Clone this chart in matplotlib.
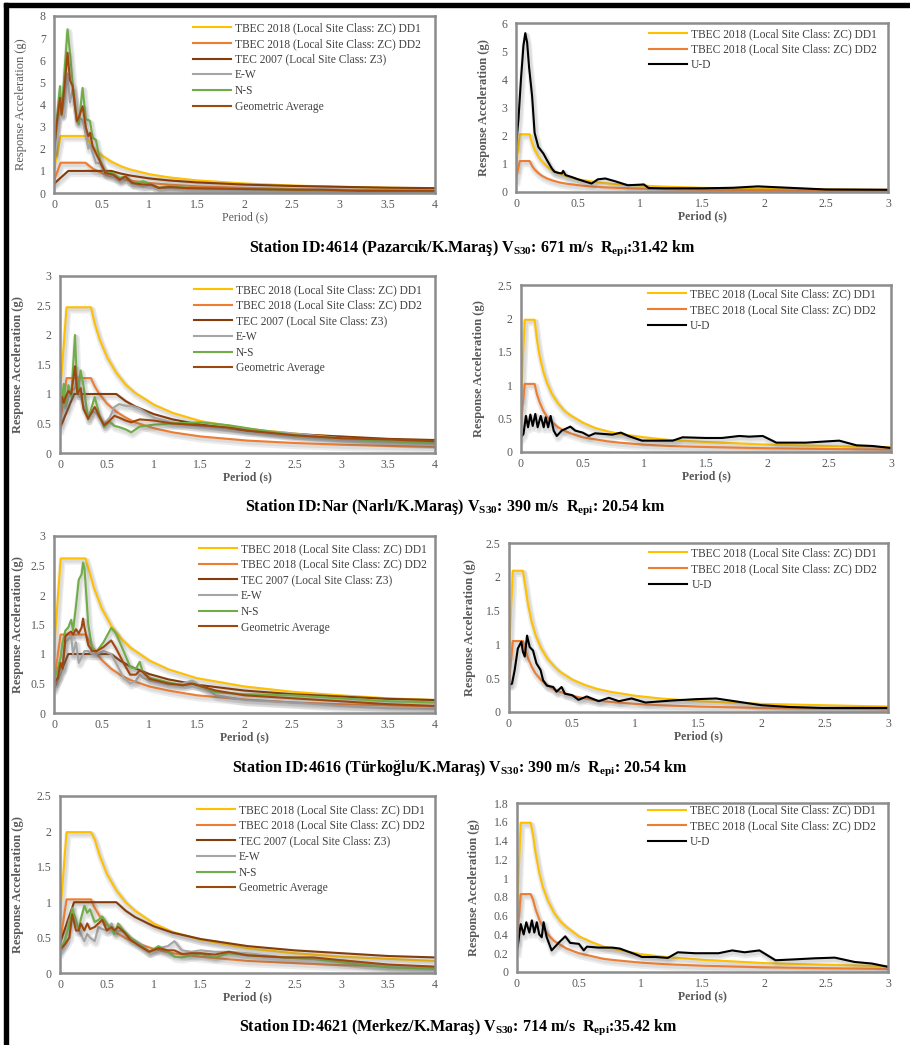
import numpy as np
import matplotlib.pyplot as plt
import matplotlib.patheffects as pe
from matplotlib.patches import Rectangle
from matplotlib.lines import Line2D
from matplotlib.ticker import FuncFormatter, MultipleLocator

plt.rcParams['font.family'] = ['Liberation Serif', 'DejaVu Serif']
plt.rcParams['mathtext.fontset'] = 'custom'
plt.rcParams['mathtext.rm'] = 'Liberation Serif:bold'
plt.rcParams['mathtext.it'] = 'Liberation Serif:bold'
plt.rcParams['mathtext.bf'] = 'Liberation Serif:bold'

# ---- design spectra ----
# left panels (horizontal components), period grid 0-4 s
dl_t = [0, 0.07, 0.33, 0.37, 0.42, 0.5, 0.6, 0.7, 0.8, 1.0, 1.2, 1.5, 2.0, 2.5, 3.0, 3.5, 4.0]
r1_dd1 = [1.05, 2.58, 2.58, 2.30, 2.02, 1.70, 1.42, 1.21, 1.06, 0.85, 0.71, 0.57, 0.43, 0.34, 0.28, 0.24, 0.21]
r1_dd2 = [0.55, 1.37, 1.37, 1.22, 1.07, 0.90, 0.75, 0.64, 0.56, 0.45, 0.38, 0.30, 0.23, 0.18, 0.15, 0.13, 0.11]
r2_dd1 = [0.99, 2.47, 2.47, 2.20, 1.94, 1.63, 1.36, 1.16, 1.02, 0.82, 0.68, 0.54, 0.41, 0.33, 0.27, 0.23, 0.20]
r2_dd2 = [0.51, 1.27, 1.27, 1.13, 1.00, 0.84, 0.70, 0.60, 0.52, 0.42, 0.35, 0.28, 0.21, 0.17, 0.14, 0.12, 0.10]
r3_dd1 = [1.05, 2.62, 2.62, 2.41, 2.12, 1.78, 1.48, 1.27, 1.11, 0.89, 0.74, 0.59, 0.45, 0.36, 0.30, 0.25, 0.22]
r3_dd2 = [0.53, 1.33, 1.33, 1.22, 1.07, 0.90, 0.75, 0.64, 0.56, 0.45, 0.38, 0.30, 0.23, 0.18, 0.15, 0.13, 0.11]
r4_dd1 = [0.80, 1.99, 1.99, 1.89, 1.67, 1.40, 1.17, 1.00, 0.88, 0.70, 0.58, 0.47, 0.35, 0.28, 0.23, 0.20, 0.17]
r4_dd2 = [0.42, 1.04, 1.04, 0.92, 0.81, 0.68, 0.57, 0.49, 0.43, 0.34, 0.28, 0.23, 0.17, 0.14, 0.11, 0.10, 0.085]

tec_t = [0, 0.15, 0.6, 0.7, 0.8, 1.0, 1.2, 1.5, 2.0, 2.5, 3.0, 3.5, 4.0]
tec_v = [0.42, 1.0, 1.0, 0.88, 0.79, 0.66, 0.57, 0.48, 0.38, 0.32, 0.28, 0.24, 0.22]

# right panels (vertical component), period grid 0-3 s
dr_t = [0, 0.03, 0.11, 0.13, 0.15, 0.18, 0.21, 0.25, 0.3, 0.35, 0.4, 0.5, 0.6, 0.7, 0.8, 1.0, 1.2, 1.5, 2.0, 2.5, 3.0]
r1v_dd1 = [0.85, 2.05, 2.05, 1.74, 1.51, 1.26, 1.08, 0.90, 0.75, 0.65, 0.57, 0.45, 0.38, 0.32, 0.28, 0.23, 0.19, 0.15, 0.11, 0.09, 0.075]
r1v_dd2 = [0.45, 1.10, 1.10, 0.92, 0.80, 0.67, 0.57, 0.48, 0.40, 0.34, 0.30, 0.24, 0.20, 0.17, 0.15, 0.12, 0.10, 0.08, 0.06, 0.05, 0.04]
r2v_dd1 = [0.80, 1.98, 1.98, 1.68, 1.45, 1.21, 1.04, 0.87, 0.73, 0.62, 0.55, 0.44, 0.36, 0.31, 0.27, 0.22, 0.18, 0.15, 0.11, 0.09, 0.07]
r2v_dd2 = [0.41, 1.02, 1.02, 0.86, 0.75, 0.62, 0.53, 0.45, 0.37, 0.32, 0.28, 0.22, 0.19, 0.16, 0.14, 0.11, 0.09, 0.075, 0.056, 0.045, 0.037]
r3v_dd1 = [0.85, 2.09, 2.09, 1.85, 1.60, 1.33, 1.14, 0.96, 0.80, 0.69, 0.60, 0.48, 0.40, 0.34, 0.30, 0.24, 0.20, 0.16, 0.12, 0.10, 0.08]
r3v_dd2 = [0.42, 1.05, 1.05, 0.92, 0.80, 0.67, 0.57, 0.48, 0.40, 0.34, 0.30, 0.24, 0.20, 0.17, 0.15, 0.12, 0.10, 0.08, 0.06, 0.05, 0.04]
r4v_dd1 = [0.64, 1.59, 1.59, 1.46, 1.27, 1.06, 0.90, 0.76, 0.63, 0.54, 0.48, 0.38, 0.32, 0.27, 0.24, 0.19, 0.16, 0.13, 0.095, 0.076, 0.063]
r4v_dd2 = [0.33, 0.83, 0.83, 0.77, 0.67, 0.56, 0.48, 0.40, 0.33, 0.29, 0.25, 0.20, 0.17, 0.14, 0.125, 0.10, 0.083, 0.067, 0.05, 0.04, 0.033]

# ---- recorded spectra ----
r1_t = [0, 0.03, 0.063, 0.08, 0.11, 0.142, 0.168, 0.195, 0.24, 0.26, 0.30, 0.335, 0.36, 0.378, 0.406, 0.44,
        0.483, 0.54, 0.62, 0.69, 0.75, 0.82, 0.94, 1.02, 1.1, 1.22, 1.4, 1.7, 2.0, 2.5, 2.8, 3.2, 3.6, 4.0]
r1_ns = [1.9, 3.4, 4.83, 3.55, 5.5, 7.4, 6.34, 4.98, 3.32, 3.1, 4.75, 3.32, 3.3, 3.25, 2.5, 2.4,
         1.5, 0.92, 0.9, 0.68, 0.75, 0.45, 0.53, 0.38, 0.23, 0.33, 0.23, 0.22, 0.2, 0.15, 0.12, 0.1, 0.08, 0.07]
r1_ga = [1.9, 3.2, 4.3, 3.55, 4.8, 6.34, 5.1, 4.83, 3.25, 3.4, 3.92, 2.95, 2.57, 2.72, 2.1, 1.8,
         1.43, 0.9, 0.83, 0.6, 0.75, 0.45, 0.38, 0.38, 0.23, 0.27, 0.22, 0.2, 0.18, 0.15, 0.15, 0.1, 0.1, 0.1]
r1_ew = [1.8, 3.0, 3.8, 3.5, 4.2, 5.4, 4.1, 4.7, 3.2, 3.4, 3.3, 2.6, 2.0, 2.2, 1.8, 1.35,
         1.35, 0.88, 0.76, 0.53, 0.75, 0.45, 0.27, 0.38, 0.23, 0.22, 0.21, 0.18, 0.16, 0.15, 0.18, 0.1, 0.12, 0.13]

r2_t = [0, 0.02, 0.04, 0.06, 0.09, 0.12, 0.16, 0.185, 0.22, 0.25, 0.30, 0.37, 0.42, 0.47, 0.53, 0.58, 0.63,
        0.7, 0.76, 0.85, 1.0, 1.2, 1.5, 1.8, 2.0, 2.5, 3.0, 3.5, 4.0]
r2_ns = [0.6, 0.9, 1.17, 0.8, 1.15, 0.95, 2.0, 1.0, 1.4, 1.15, 0.57, 0.95, 0.65, 0.44, 0.53, 0.46, 0.44,
         0.4, 0.35, 0.45, 0.48, 0.5, 0.52, 0.47, 0.42, 0.3, 0.25, 0.2, 0.17]
r2_ga = [0.65, 0.95, 0.85, 0.95, 1.05, 1.0, 1.47, 1.0, 1.1, 0.75, 0.58, 0.78, 0.62, 0.47, 0.55, 0.63, 0.6,
         0.55, 0.52, 0.57, 0.55, 0.5, 0.47, 0.43, 0.38, 0.3, 0.25, 0.23, 0.2]
r2_ew = [0.95, 0.9, 0.8, 0.75, 0.95, 1.05, 1.1, 1.3, 0.95, 0.8, 0.65, 0.7, 0.6, 0.5, 0.6, 0.78, 0.83,
         0.8, 0.8, 0.75, 0.6, 0.52, 0.45, 0.42, 0.4, 0.33, 0.25, 0.2, 0.17]

r3_t = [0, 0.04, 0.07, 0.09, 0.12, 0.15, 0.18, 0.2, 0.23, 0.26, 0.29, 0.305, 0.32, 0.36, 0.4, 0.45, 0.52,
        0.6, 0.65, 0.73, 0.8, 0.86, 0.9, 0.93, 1.0, 1.2, 1.35, 1.45, 1.55, 1.7, 2.0, 2.5, 3.0, 3.5, 4.0]
r3_ns = [0.55, 0.75, 0.95, 1.2, 1.4, 1.45, 1.58, 1.4, 1.8, 2.26, 2.35, 2.55, 2.45, 1.5, 1.1, 1.05, 1.2,
         1.44, 1.35, 1.05, 0.78, 0.75, 0.87, 0.7, 0.6, 0.52, 0.47, 0.5, 0.45, 0.35, 0.32, 0.3, 0.25, 0.2, 0.18]
r3_ga = [0.5, 0.6, 0.85, 0.75, 1.3, 1.35, 1.38, 1.33, 1.42, 1.35, 1.45, 1.6, 1.45, 1.15, 1.05, 1.05, 1.12,
         1.23, 1.1, 0.85, 0.65, 0.65, 0.72, 0.7, 0.58, 0.5, 0.47, 0.5, 0.45, 0.38, 0.3, 0.25, 0.2, 0.15, 0.12]
r3_ew = [0.45, 0.6, 0.7, 0.8, 1.2, 1.25, 1.3, 1.0, 1.2, 0.85, 0.95, 1.0, 1.05, 1.05, 1.0, 1.0, 1.05,
         1.0, 0.85, 0.6, 0.5, 0.55, 0.65, 0.6, 0.55, 0.48, 0.5, 0.55, 0.45, 0.3, 0.22, 0.18, 0.12, 0.08, 0.07]

r4_t = [0, 0.05, 0.1, 0.13, 0.17, 0.2, 0.22, 0.26, 0.29, 0.32, 0.37, 0.41, 0.45, 0.5, 0.55, 0.58, 0.62,
        0.68, 0.75, 0.85, 0.95, 1.05, 1.15, 1.22, 1.3, 1.4, 1.5, 1.65, 1.8, 2.0, 2.4, 2.7, 3.0, 3.5, 4.0]
r4_ns = [0.35, 0.45, 0.7, 0.92, 0.75, 0.6, 0.75, 0.95, 0.85, 0.9, 0.72, 0.75, 0.8, 0.7, 0.62, 0.55, 0.7,
         0.6, 0.5, 0.4, 0.3, 0.38, 0.3, 0.23, 0.22, 0.25, 0.27, 0.22, 0.28, 0.25, 0.22, 0.2, 0.15, 0.08, 0.06]
r4_ga = [0.33, 0.4, 0.5, 0.83, 0.6, 0.6, 0.7, 0.6, 0.7, 0.62, 0.65, 0.7, 0.75, 0.6, 0.65, 0.6, 0.65,
         0.58, 0.47, 0.38, 0.3, 0.35, 0.32, 0.32, 0.27, 0.28, 0.28, 0.26, 0.3, 0.25, 0.22, 0.22, 0.18, 0.12, 0.09]
r4_ew = [0.3, 0.45, 0.75, 0.8, 0.7, 0.62, 0.55, 0.45, 0.55, 0.5, 0.45, 0.65, 0.62, 0.6, 0.7, 0.6, 0.6,
         0.58, 0.5, 0.42, 0.3, 0.35, 0.38, 0.45, 0.32, 0.3, 0.32, 0.3, 0.3, 0.28, 0.22, 0.2, 0.18, 0.1, 0.08]

# vertical (U-D)
r1_ud_t = [0, 0.02, 0.04, 0.06, 0.075, 0.09, 0.105, 0.13, 0.15, 0.18, 0.22, 0.25, 0.29, 0.31, 0.34, 0.37,
           0.38, 0.40, 0.45, 0.50, 0.55, 0.61, 0.66, 0.72, 0.80, 0.90, 1.0, 1.03, 1.07, 1.2, 1.5, 1.75, 1.95, 2.2, 2.5, 3.0]
r1_ud = [1.6, 2.6, 4.0, 5.2, 5.64, 5.3, 4.45, 3.4, 2.1, 1.6, 1.37, 1.13, 0.83, 0.72, 0.68, 0.66,
         0.75, 0.6, 0.53, 0.45, 0.38, 0.3, 0.45, 0.48, 0.38, 0.24, 0.26, 0.27, 0.14, 0.13, 0.13, 0.15, 0.2, 0.15, 0.09, 0.08]

r2_ud_t = [0, 0.02, 0.04, 0.057, 0.076, 0.095, 0.116, 0.135, 0.16, 0.184, 0.2, 0.22, 0.24, 0.265, 0.29, 0.33,
           0.4, 0.44, 0.5, 0.55, 0.6, 0.74, 0.81, 0.87, 0.98, 1.23, 1.31, 1.5, 1.63, 1.77, 1.85, 1.96, 2.07,
           2.31, 2.58, 2.72, 2.85, 3.0]
r2_ud = [0.22, 0.27, 0.54, 0.37, 0.56, 0.39, 0.57, 0.37, 0.54, 0.37, 0.52, 0.37, 0.54, 0.32, 0.24, 0.32,
         0.38, 0.32, 0.29, 0.24, 0.28, 0.26, 0.29, 0.24, 0.17, 0.17, 0.22, 0.21, 0.21, 0.24, 0.23, 0.24, 0.14,
         0.14, 0.17, 0.1, 0.09, 0.06]

r3_ud_t = [0, 0.024, 0.045, 0.07, 0.098, 0.11, 0.125, 0.143, 0.164, 0.19, 0.217, 0.25, 0.27, 0.3, 0.35,
           0.376, 0.416, 0.443, 0.5, 0.55, 0.615, 0.71, 0.79, 0.87, 0.97, 1.08, 1.29, 1.48, 1.64, 1.82, 2.0,
           2.22, 2.48, 3.0]
r3_ud = [0.4, 0.42, 0.62, 0.94, 1.04, 0.89, 0.82, 1.13, 0.96, 0.91, 0.72, 0.62, 0.47, 0.39, 0.37,
         0.3, 0.37, 0.27, 0.25, 0.18, 0.23, 0.16, 0.21, 0.16, 0.2, 0.14, 0.17, 0.19, 0.2, 0.15, 0.1,
         0.074, 0.06, 0.06]

r4_ud_t = [0, 0.03, 0.054, 0.075, 0.1, 0.12, 0.14, 0.16, 0.18, 0.2, 0.215, 0.24, 0.28, 0.336, 0.39, 0.43,
           0.5, 0.54, 0.565, 0.66, 0.77, 0.83, 0.955, 1.01, 1.12, 1.22, 1.3, 1.44, 1.63, 1.74, 1.84, 1.96,
           2.09, 2.25, 2.41, 2.57, 2.73, 2.87, 3.0]
r4_ud = [0.22, 0.51, 0.4, 0.53, 0.42, 0.55, 0.42, 0.53, 0.4, 0.37, 0.53, 0.37, 0.23, 0.31, 0.38, 0.31,
         0.3, 0.23, 0.27, 0.26, 0.26, 0.25, 0.19, 0.16, 0.16, 0.15, 0.21, 0.2, 0.2, 0.23, 0.21, 0.23,
         0.125, 0.135, 0.146, 0.153, 0.107, 0.09, 0.055]

left_labels = ['TBEC 2018 (Local Site Class: ZC) DD1', 'TBEC 2018 (Local Site Class: ZC) DD2',
               'TEC 2007 (Local Site Class: Z3)', 'E-W', 'N-S', 'Geometric Average']
right_labels = ['TBEC 2018 (Local Site Class: ZC) DD1', 'TBEC 2018 (Local Site Class: ZC) DD2', 'U-D']

captions = [
    'Station ID:4614 (Pazarcık/K.Maraş) V$_{S30}$: 671 m/s  R$_{epi}$:31.42 km',
    'Station ID:Nar (Narlı/K.Maraş) V$_{S30}$: 390 m/s  R$_{epi}$: 20.54 km',
    'Station ID:4616 (Türkoğlu/K.Maraş) V$_{S30}$: 390 m/s  R$_{epi}$: 20.54 km',
    'Station ID:4621 (Merkez/K.Maraş) V$_{S30}$: 714 m/s  R$_{epi}$:35.42 km',
]

C_DD1, C_DD2, C_TEC = '#FFC000', '#ED7D31', '#843C0C'
C_EW, C_NS, C_GA = '#A5A5A5', '#70AD47', '#9E480E'

W, H = 910, 1045
fig = plt.figure(figsize=(W / 100, H / 100), dpi=100)

# soft gray drop shadow like the Excel line effect
shadow = [pe.SimpleLineShadow(offset=(1, -2), shadow_color='#666666', alpha=0.12, linewidth=5),
          pe.SimpleLineShadow(offset=(1, -1.5), shadow_color='#666666', alpha=0.12, linewidth=3),
          pe.Normal()]


def make_ax(l, t, r, b):
    return fig.add_axes([l / W, 1 - b / H, (r - l) / W, (b - t) / H])


def style(ax, xmax, ymax, ystep, box, bold, ylab_off, leg_x, leg_top, colors, labels):
    l, t, r, b = box
    ax.set_xlim(0, xmax)
    ax.set_ylim(0, ymax)
    ax.xaxis.set_major_locator(MultipleLocator(0.5))
    ax.yaxis.set_major_locator(MultipleLocator(ystep))
    fmt = FuncFormatter(lambda v, p: '{:g}'.format(round(v, 2)))
    ax.xaxis.set_major_formatter(fmt)
    ax.yaxis.set_major_formatter(fmt)
    ax.tick_params(axis='y', length=0, pad=6, labelsize=8.5, labelcolor='#595959')
    ax.tick_params(axis='x', length=0, pad=4, labelsize=8.5, labelcolor='#595959')
    for s in ax.spines.values():
        s.set_color('#8c8c8c')
        s.set_linewidth(1.8)
    w = 'bold' if bold else 'normal'
    ax.set_xlabel('Period (s)', fontsize=8.5, fontweight=w, color='#595959')
    ax.xaxis.set_label_coords(0.5, -18.5 / (b - t))
    ax.set_ylabel('Response Acceleration (g)', fontsize=9, fontweight=w, color='#595959')
    ax.yaxis.set_label_coords(-ylab_off / (r - l), 0.5)
    handles = [Line2D([], [], color=c, lw=1.5) for c in colors]
    ax.legend(handles, labels, loc='upper left', bbox_to_anchor=(leg_x, leg_top), frameon=False,
              fontsize=8.3, handlelength=3.3, handletextpad=0.35, labelspacing=0.32, borderpad=0,
              borderaxespad=0, labelcolor='#404040')


left_rows = [
    (r1_dd1, r1_dd2, r1_t, r1_ew, r1_ns, r1_ga, 8, 1, (54, 16, 435, 193), False, 27, 0.365, 0.965),
    (r2_dd1, r2_dd2, r2_t, r2_ew, r2_ns, r2_ga, 3, 0.5, (60, 276, 435, 453), True, 36, 0.357, 0.955),
    (r3_dd1, r3_dd2, r3_t, r3_ew, r3_ns, r3_ga, 3, 0.5, (54, 536, 435, 713), True, 30, 0.38, 0.96),
    (r4_dd1, r4_dd2, r4_t, r4_ew, r4_ns, r4_ga, 2.5, 0.5, (60, 796, 435, 973), True, 36, 0.365, 0.955),
]
right_rows = [
    (r1v_dd1, r1v_dd2, r1_ud_t, r1_ud, 6, 1, (516, 23, 888, 192), 26, 0.357, 0.97),
    (r2v_dd1, r2v_dd2, r2_ud_t, r2_ud, 2.5, 0.5, (521, 285, 891, 452), 36, 0.343, 0.98),
    (r3v_dd1, r3v_dd2, r3_ud_t, r3_ud, 2.5, 0.5, (509, 543, 888, 712), 33, 0.37, 0.975),
    (r4v_dd1, r4v_dd2, r4_ud_t, r4_ud, 1.8, 0.2, (517, 803, 888, 972), 37, 0.353, 0.99),
]

left_colors = [C_DD1, C_DD2, C_TEC, C_EW, C_NS, C_GA]
right_colors = [C_DD1, C_DD2, 'black']

for dd1, dd2, t, ew, ns, ga, ymax, ystep, box, bold, yoff, lx, lt in left_rows:
    ax = make_ax(*box)
    series = [(dl_t, dd1), (dl_t, dd2), (tec_t, tec_v), (t, ew), (t, ns), (t, ga)]
    for (x, y), c in zip(series, left_colors):
        ax.plot(x, y, color=c, lw=1.5, path_effects=shadow)
    style(ax, 4, ymax, ystep, box, bold, yoff, lx, lt, left_colors, left_labels)

for dd1, dd2, t, ud, ymax, ystep, box, yoff, lx, lt in right_rows:
    ax = make_ax(*box)
    series = [(dr_t, dd1), (dr_t, dd2), (t, ud)]
    for (x, y), c in zip(series, right_colors):
        ax.plot(x, y, color=c, lw=1.5, path_effects=shadow)
    style(ax, 3, ymax, ystep, box, True, yoff, lx, lt, right_colors, right_labels)

for cap, (cx, cy) in zip(captions, [(472, 248), (455, 507), (460, 768), (458, 1027)]):
    fig.text(cx / W, 1 - cy / H, cap, ha='center', va='center', fontsize=11.5, fontweight='bold')

# black frame on the top and left edges
fig.add_artist(Rectangle((4 / W, 0), 4 / W, 1 - 3 / H, transform=fig.transFigure, color='black'))
fig.add_artist(Rectangle((4 / W, 1 - 7 / H), 1 - 4 / W, 4 / H, transform=fig.transFigure, color='black'))

fig.savefig('out.png', dpi=100)
